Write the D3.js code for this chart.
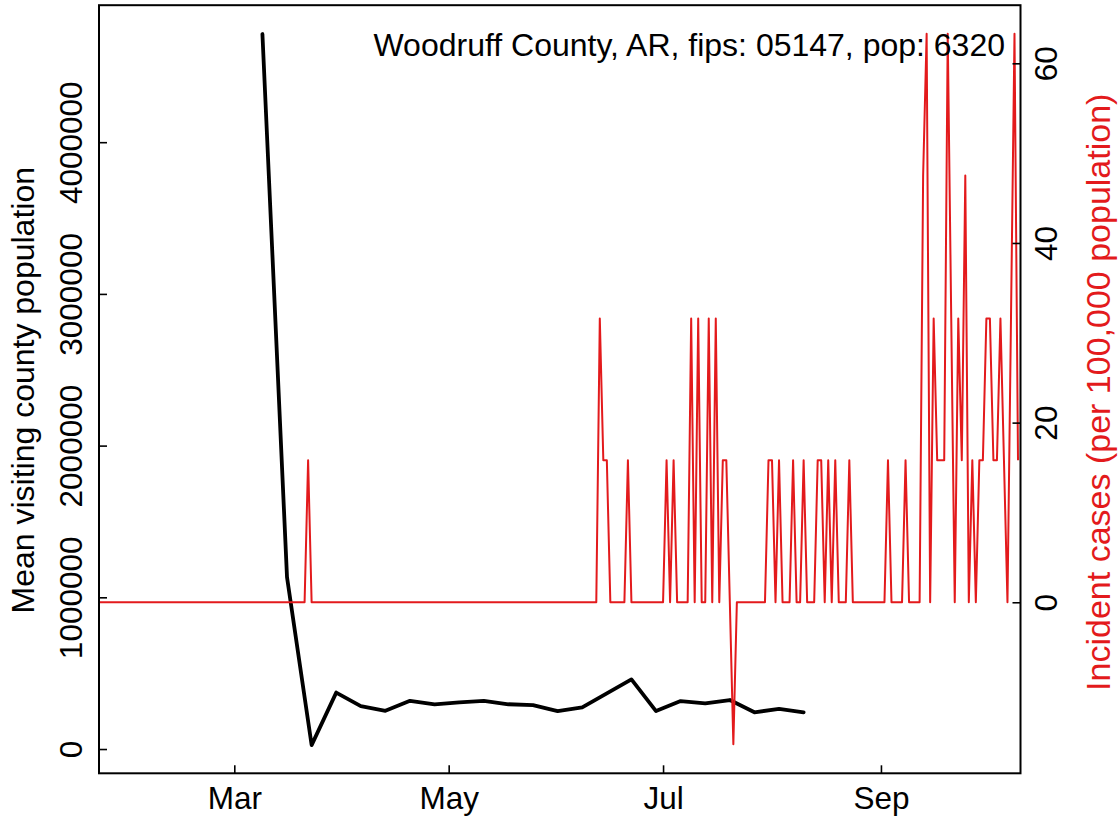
<!DOCTYPE html>
<html>
<head>
<meta charset="utf-8">
<script src="https://cdn.jsdelivr.net/npm/d3@7"></script>
<style>
  html, body { margin: 0; padding: 0; background: #ffffff; }
  svg { display: block; }
  text { font-family: "Liberation Sans", Arial, Helvetica, sans-serif; }
</style>
</head>
<body>
<svg id="chart" width="1119" height="822"></svg>
<script>
// ---------------- DATA ----------------
const chartTitle = "Woodruff County, AR, fips: 05147, pop: 6320";
const leftAxisTitle = "Mean visiting county population";
const rightAxisTitle = "Incident cases (per 100,000 population)";

// Weekly mean visiting county population (black line)
const visitDates = ["2020-03-09","2020-03-16","2020-03-23","2020-03-30","2020-04-06","2020-04-13",
  "2020-04-20","2020-04-27","2020-05-04","2020-05-11","2020-05-18","2020-05-25","2020-06-01",
  "2020-06-08","2020-06-15","2020-06-22","2020-06-29","2020-07-06","2020-07-13","2020-07-20",
  "2020-07-27","2020-08-03","2020-08-10"];
const visitValues = [4713000, 1132000, 26000, 372000, 283000, 252000, 318000, 295000, 308000,
  318000, 295000, 290000, 250000, 275000, 367000, 459000, 250000, 316000, 301000, 323000,
  242000, 264000, 242000];

// Daily incident cases per 100,000 (red line), first day 2020-01-22
const incidenceStart = "2020-01-22";
const incJan = [0,0,0,0,0,0,0,0,0,0];
const incFeb = [0,0,0,0,0,0,0,0,0,0, 0,0,0,0,0,0,0,0,0,0, 0,0,0,0,0,0,0,0,0];
const incMar = [0,0,0,0,0,0,0,0,0,0, 0,0,0,0,0,0,0,0,0,0, 0,15.8,0,0,0,0,0,0,0,0, 0];
const incApr = [0,0,0,0,0,0,0,0,0,0, 0,0,0,0,0,0,0,0,0,0, 0,0,0,0,0,0,0,0,0,0];
const incMay = [0,0,0,0,0,0,0,0,0,0, 0,0,0,0,0,0,0,0,0,0, 0,0,0,0,0,0,0,0,0,0, 0];
const incJun = [0,0,0,0,0,0,0,0,0,0, 0,0,31.6,15.8,15.8,0,0,0,0,0, 15.8,0,0,0,0,0,0,0,0,0];
const incJul = [0,15.8,0,15.8,0,0,0,0,31.6,0, 31.6,0,0,31.6,0,31.6,0,15.8,15.8,0, -15.8,0,0,0,0,0,0,0,0,0, 15.8];
const incAug = [15.8,0,15.8,0,0,0,15.8,0,0,15.8, 0,0,0,15.8,15.8,0,15.8,0,15.8,0, 0,0,15.8,0,0,0,0,0,0,0, 0];
const incSep = [0,0,15.8,0,0,0,0,15.8,0,0, 0,0,47.5,63.3,0,31.6,15.8,15.8,15.8,63.3, 31.6,0,31.6,15.8,47.5,0,15.8,0,15.8,15.8];
const incOct = [31.6,31.6,15.8,15.8,31.6,15.8,0,31.6,63.3,15.8];

const leftTicks = [0, 1000000, 2000000, 3000000, 4000000];
const rightTicks = [0, 20, 40, 60];

// ---------------- LAYOUT ----------------
const W = 1119, H = 822;
const plot = { left: 99, right: 1020.5, top: 5.2, bottom: 773.3 };
const red = "#e31a1c";
const fontSize = 31.5;

const svg = d3.select("#chart");
svg.append("rect").attr("width", W).attr("height", H).attr("fill", "#ffffff");

const xScale = d3.scaleUtc()
  .domain([new Date(Date.UTC(2020, 0, 22, 12)), new Date(Date.UTC(2020, 9, 10, 17))])
  .range([plot.left, plot.right]);
const yLeft = d3.scaleLinear().domain([-160000, 4903000]).range([plot.bottom, plot.top]);
const yRight = d3.scaleLinear().domain([-19.04, 66.47]).range([plot.bottom, plot.top]);

const parse = d3.utcParse("%Y-%m-%d");
const visits = visitDates.map((d, i) => ({ date: parse(d), value: visitValues[i] }));
const incValues = [].concat(incJan, incFeb, incMar, incApr, incMay, incJun, incJul, incAug, incSep, incOct);
const start = parse(incidenceStart);
const incidence = incValues.map((v, i) => ({ date: d3.utcDay.offset(start, i), value: v }));

svg.append("defs").append("clipPath").attr("id", "plotclip")
  .append("rect")
  .attr("x", plot.left).attr("y", plot.top)
  .attr("width", plot.right - plot.left).attr("height", plot.bottom - plot.top);

const g = svg.append("g").attr("clip-path", "url(#plotclip)");

// black line
g.append("path")
  .datum(visits)
  .attr("fill", "none")
  .attr("stroke", "#000")
  .attr("stroke-width", 3.8)
  .attr("stroke-linejoin", "round")
  .attr("stroke-linecap", "round")
  .attr("d", d3.line().x(d => xScale(d.date)).y(d => yLeft(d.value)));

// red line
g.append("path")
  .datum(incidence)
  .attr("fill", "none")
  .attr("stroke", red)
  .attr("stroke-width", 2)
  .attr("stroke-linejoin", "round")
  .attr("d", d3.line().x(d => xScale(d.date)).y(d => yRight(d.value)));

// axes
function styleAxis(sel) {
  sel.select(".domain").remove();
  sel.selectAll(".tick line").attr("stroke", "#000").attr("stroke-width", 1.6);
  sel.selectAll(".tick text").attr("fill", "#000")
    .style("font-size", fontSize + "px")
    .style("font-family", "'Liberation Sans', Arial, Helvetica, sans-serif");
}

const axL = svg.append("g").attr("transform", `translate(${plot.left},0)`)
  .call(d3.axisLeft(yLeft).tickValues(leftTicks).tickFormat(d3.format("d")).tickSizeInner(-8).tickSizeOuter(0));
styleAxis(axL);
axL.selectAll(".tick text")
  .attr("x", null).attr("dy", null)
  .attr("text-anchor", "middle")
  .attr("transform", "translate(-17,0) rotate(-90)");

const axR = svg.append("g").attr("transform", `translate(${plot.right},0)`)
  .call(d3.axisRight(yRight).tickValues(rightTicks).tickFormat(d3.format("d")).tickSizeInner(-8).tickSizeOuter(0));
styleAxis(axR);
axR.selectAll(".tick text")
  .attr("x", null).attr("dy", null)
  .attr("text-anchor", "middle")
  .attr("transform", "translate(36.5,0) rotate(-90)");

const axB = svg.append("g").attr("transform", `translate(0,${plot.bottom})`)
  .call(d3.axisBottom(xScale).ticks(d3.utcMonth.every(2)).tickFormat(d3.utcFormat("%b")).tickSizeInner(-8).tickSizeOuter(0));
styleAxis(axB);
axB.selectAll(".tick text").attr("y", 36.2).attr("dy", null);

// box
svg.append("rect")
  .attr("x", plot.left).attr("y", plot.top)
  .attr("width", plot.right - plot.left).attr("height", plot.bottom - plot.top)
  .attr("fill", "none").attr("stroke", "#000").attr("stroke-width", 2);

// titles
svg.append("text")
  .attr("x", 1005).attr("y", 56)
  .attr("text-anchor", "end")
  .style("font-size", "32px")
  .attr("fill", "#000")
  .text(chartTitle);

svg.append("text")
  .attr("transform", `translate(34,${(plot.top + plot.bottom) / 2 + 1}) rotate(-90)`)
  .attr("text-anchor", "middle")
  .style("font-size", "32px")
  .attr("fill", "#000")
  .text(leftAxisTitle);

svg.append("text")
  .attr("transform", `translate(1110,${(plot.top + plot.bottom) / 2 + 3}) rotate(-90)`)
  .attr("text-anchor", "middle")
  .style("font-size", "34px")
  .attr("fill", red)
  .text(rightAxisTitle);
</script>
</body>
</html>
